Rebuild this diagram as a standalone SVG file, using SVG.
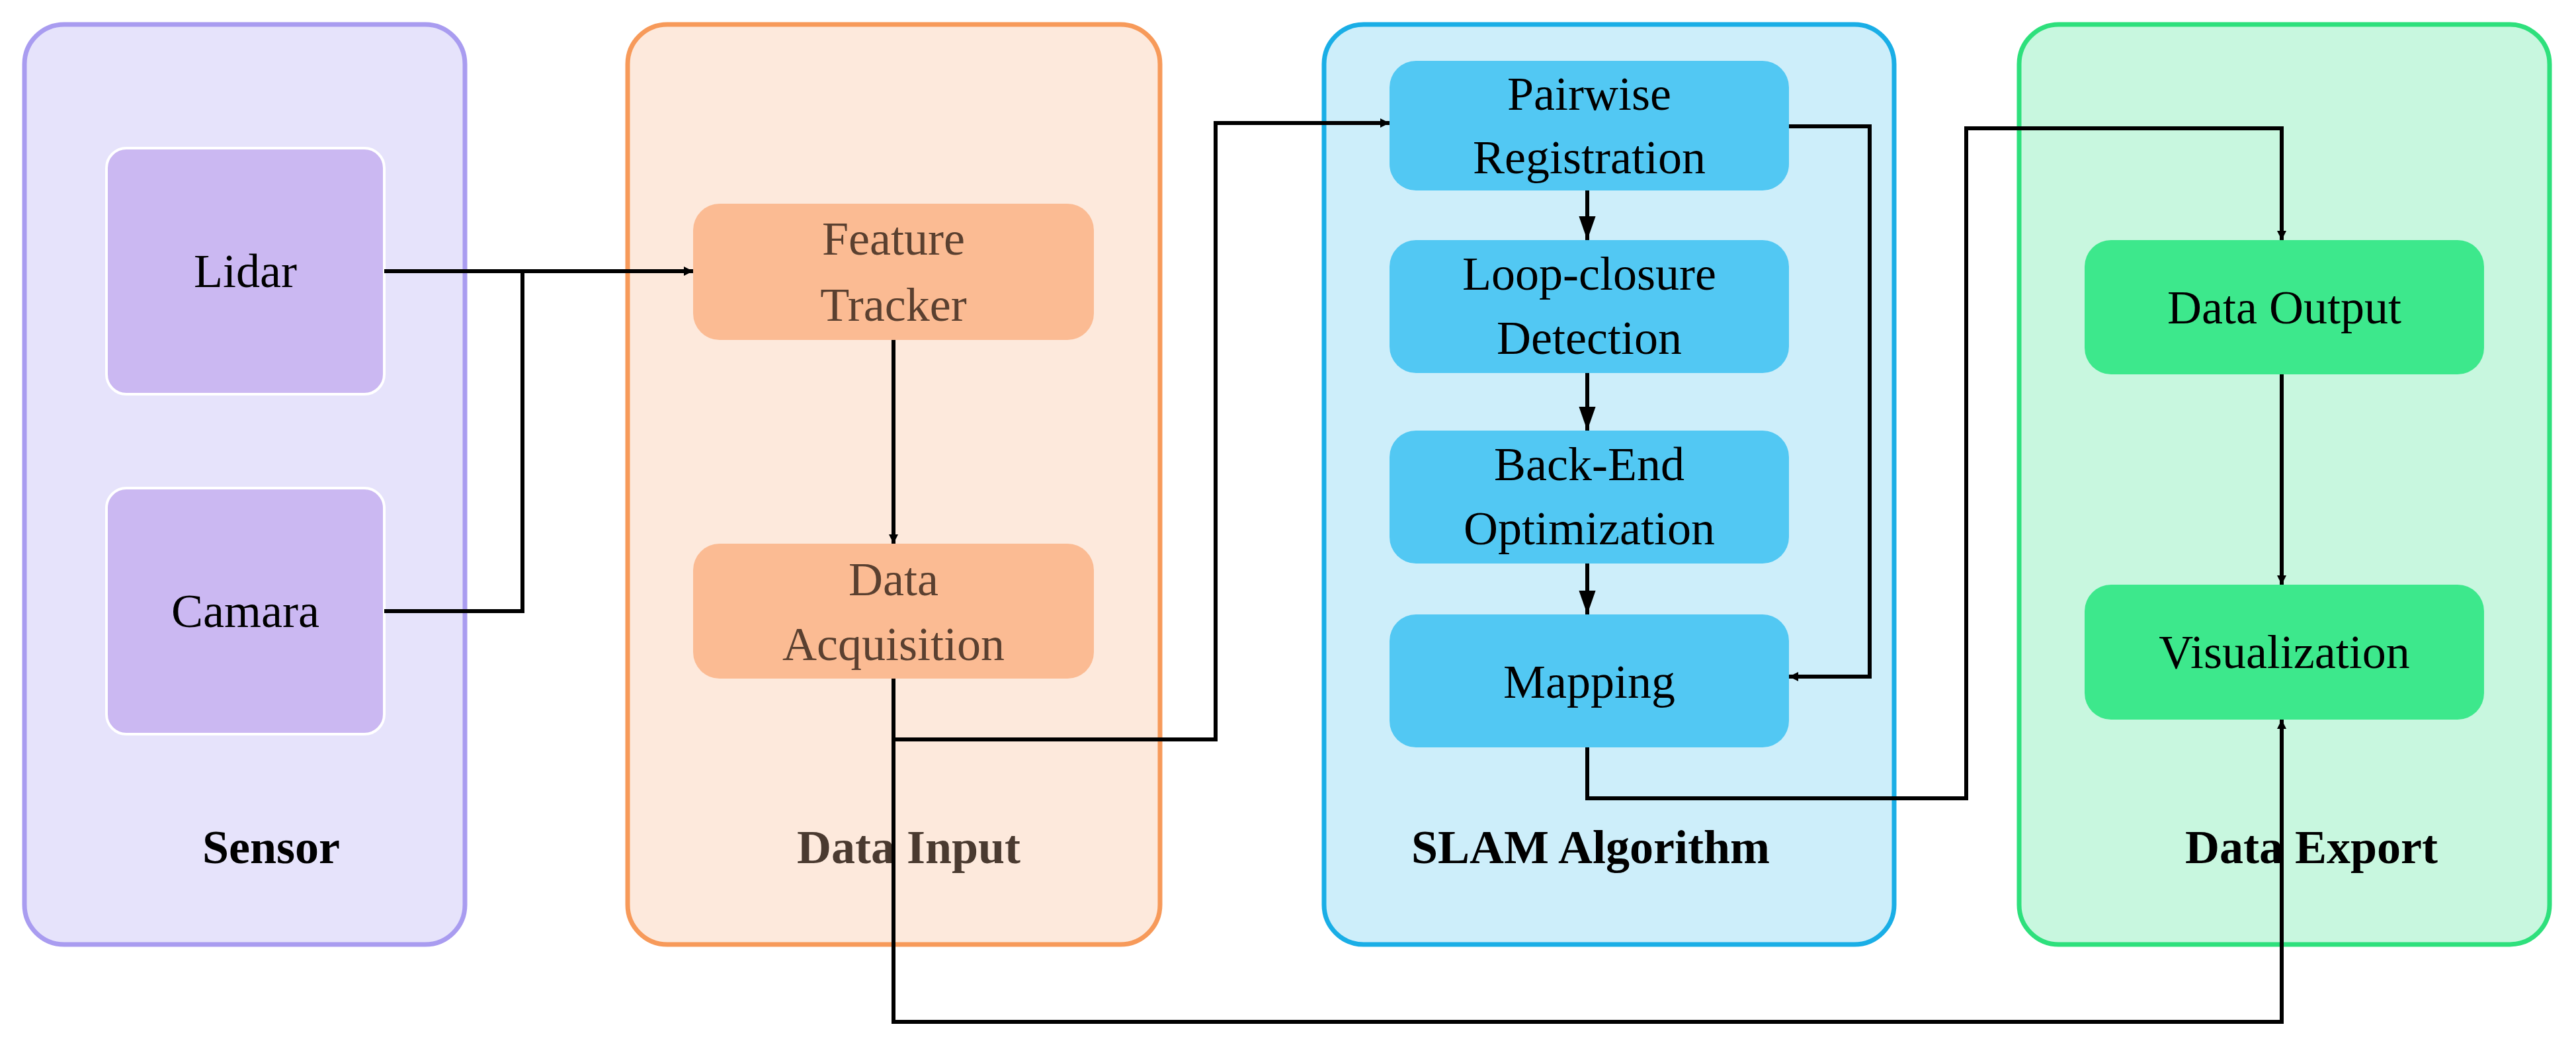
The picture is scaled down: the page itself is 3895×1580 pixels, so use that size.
<svg xmlns="http://www.w3.org/2000/svg" width="3895" height="1580" viewBox="0 0 3895 1580">
<defs>
<style>
.t{font-family:"Liberation Serif","DejaVu Serif",serif;font-size:72px;text-anchor:middle}
.b{font-family:"Liberation Serif","DejaVu Serif",serif;font-size:72px;font-weight:bold;text-anchor:middle}
.c{fill:none;stroke:#000;stroke-width:6}
</style>
<marker id="a" viewBox="0 0 10 10" refX="10" refY="5" markerWidth="14" markerHeight="14" markerUnits="userSpaceOnUse" orient="auto"><path d="M0,0L10,5L0,10z"/></marker>
<marker id="A" viewBox="0 0 10 10" refX="10" refY="5" markerWidth="6" markerHeight="6" orient="auto"><path d="M0,1.5L10,5L0,8.5z"/></marker>
</defs>
<g id="sensor"><rect x="37" y="37" width="666" height="1391" rx="60" fill="#e6e3fb" stroke="#a99cf0" stroke-width="7"/><text class="b" x="410" y="1305">Sensor</text></g>
<g id="datainput"><rect x="949" y="37" width="805" height="1391" rx="60" fill="#fde9dc" stroke="#f79a5a" stroke-width="7"/><text class="b" x="1374" y="1305" fill="#4a3a30">Data Input</text></g>
<g id="slam"><rect x="2002" y="37" width="862" height="1391" rx="60" fill="#cdeefa" stroke="#1aaee6" stroke-width="7"/><text class="b" x="2405" y="1305">SLAM Algorithm</text></g>
<g id="export"><rect x="3053" y="37" width="802" height="1391" rx="60" fill="#c8f7df" stroke="#2ee07c" stroke-width="7"/><text class="b" x="3495" y="1305">Data Export</text></g>
<g id="lidar"><rect x="161" y="224" width="420" height="372" rx="30" fill="#cbb8f2" stroke="#fff" stroke-width="4"/><text class="t" x="371" y="434">Lidar</text></g>
<g id="camara"><rect x="161" y="738" width="420" height="372" rx="30" fill="#cbb8f2" stroke="#fff" stroke-width="4"/><text class="t" x="371" y="948">Camara</text></g>
<g id="ft" fill="#5a4030"><rect x="1048" y="308" width="606" height="206" rx="40" fill="#fbbb93"/><text class="t" x="1351" y="385">Feature</text><text class="t" x="1351" y="485">Tracker</text></g>
<g id="da" fill="#5a4030"><rect x="1048" y="822" width="606" height="204" rx="40" fill="#fbbb93"/><text class="t" x="1351" y="900">Data</text><text class="t" x="1351" y="998">Acquisition</text></g>
<g id="pr"><rect x="2101" y="92" width="604" height="196" rx="40" fill="#52c8f3"/><text class="t" x="2403" y="166">Pairwise</text><text class="t" x="2403" y="262">Registration</text></g>
<g id="lc"><rect x="2101" y="363" width="604" height="201" rx="40" fill="#52c8f3"/><text class="t" x="2403" y="438">Loop-closure</text><text class="t" x="2403" y="535">Detection</text></g>
<g id="be"><rect x="2101" y="651" width="604" height="201" rx="40" fill="#52c8f3"/><text class="t" x="2403" y="726">Back-End</text><text class="t" x="2403" y="823">Optimization</text></g>
<g id="map"><rect x="2101" y="929" width="604" height="201" rx="40" fill="#52c8f3"/><text class="t" x="2403" y="1055">Mapping</text></g>
<g id="do"><rect x="3152" y="363" width="604" height="203" rx="40" fill="#3de88c"/><text class="t" x="3454" y="489">Data Output</text></g>
<g id="vis"><rect x="3152" y="884" width="604" height="204" rx="40" fill="#3de88c"/><text class="t" x="3454" y="1010">Visualization</text></g>
<g id="connectors" class="c">
<path class="c" d="M581,410H1048" marker-end="url(#a)"/>
<path class="c" d="M581,924H790V410"/>
<path class="c" d="M1351,514V822" marker-end="url(#a)"/>
<path class="c" d="M1351,1026V1545H3450V1088" marker-end="url(#a)"/>
<path class="c" d="M1351,1118H1838V186H2101" marker-end="url(#a)"/>
<path class="c" d="M2705,191H2827V1023H2705" marker-end="url(#a)"/>
<path class="c" d="M2400,288V363" marker-end="url(#A)"/>
<path class="c" d="M2400,564V651" marker-end="url(#A)"/>
<path class="c" d="M2400,852V929" marker-end="url(#A)"/>
<path class="c" d="M2400,1130V1207H2973V194H3450V363" marker-end="url(#a)"/>
<path class="c" d="M3450,566V884" marker-end="url(#a)"/>
</g>
</svg>
